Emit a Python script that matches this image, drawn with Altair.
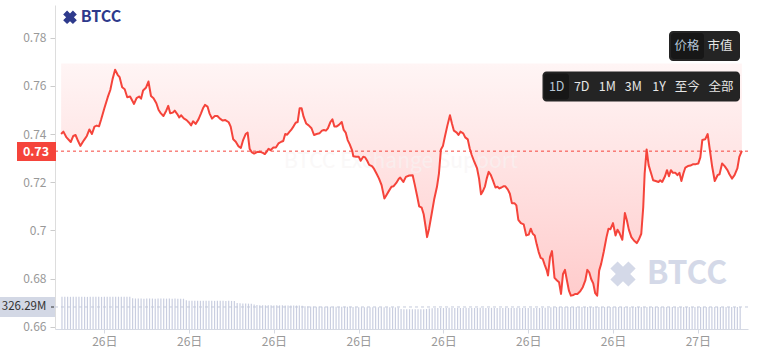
import altair as alt
import pandas as pd

FONT = "Noto Sans CJK SC"

# ---------------- data ----------------
# price series: time in hours since 26日 00:00, price
price_hours = [
    1.47, 1.55, 1.66, 1.81, 1.90, 1.98, 2.07, 2.15, 2.28, 2.38,
    2.47, 2.56, 2.65, 2.73, 2.81, 2.88, 3.00, 3.12, 3.21, 3.29,
    3.38, 3.47, 3.54, 3.63, 3.72, 3.81, 3.91, 4.05, 4.14, 4.23,
    4.30, 4.37, 4.47, 4.56, 4.65, 4.74, 4.84, 4.92, 5.00, 5.09,
    5.19, 5.26, 5.33, 5.42, 5.49, 5.58, 5.65, 5.72, 5.81, 5.91,
    6.00, 6.07, 6.14, 6.23, 6.33, 6.42, 6.49, 6.56, 6.65, 6.72,
    6.81, 6.91, 7.00, 7.09, 7.19, 7.28, 7.40, 7.47, 7.56, 7.65,
    7.74, 7.83, 7.91, 8.00, 8.07, 8.14, 8.21, 8.30, 8.40, 8.51,
    8.61, 8.68, 8.74, 8.81, 8.88, 8.98, 9.07, 9.16, 9.26, 9.33,
    9.40, 9.47, 9.54, 9.61, 9.70, 9.77, 9.84, 9.91, 9.98, 10.05,
    10.14, 10.23, 10.33, 10.42, 10.51, 10.61, 10.70, 10.77, 10.84, 10.91,
    11.00, 11.07, 11.14, 11.21, 11.30, 11.40, 11.47, 11.54, 11.61, 11.68,
    11.77, 11.81, 11.91, 12.00, 12.07, 12.16, 12.23, 12.30, 12.37, 12.47,
    12.54, 12.63, 12.72, 12.81, 12.86, 12.91, 12.98, 13.07, 13.16, 13.23,
    13.33, 13.42, 13.47,
    13.58, 13.67, 13.79, 13.91, 13.98, 14.07, 14.14, 14.23, 14.30, 14.37,
    14.42, 14.49, 14.58, 14.67, 14.77, 14.84, 14.91, 14.98, 15.05, 15.14,
    15.23, 15.30, 15.37, 15.47, 15.53, 15.60, 15.70, 15.77, 15.86, 15.93,
    16.00, 16.09, 16.19, 16.26, 16.33, 16.40, 16.47, 16.53, 16.60, 16.67,
    16.74, 16.84, 16.91, 16.98, 17.05, 17.12, 17.19, 17.28, 17.35, 17.42,
    17.51, 17.58, 17.65, 17.74, 17.84, 17.93, 18.02, 18.09, 18.16, 18.23,
    18.30, 18.37, 18.44, 18.51, 18.58, 18.65, 18.70, 18.77, 18.84, 18.93,
    19.02, 19.09, 19.16, 19.23, 19.30, 19.37, 19.44, 19.51, 19.60, 19.67,
    19.74, 19.84, 19.93, 20.02, 20.09, 20.16, 20.23, 20.30, 20.37, 20.44,
    20.51, 20.58, 20.67, 20.77, 20.84, 20.91, 21.00, 21.09, 21.16, 21.23,
    21.33, 21.42, 21.49, 21.56, 21.65, 21.74, 21.84, 21.91, 22.00, 22.07,
    22.12, 22.19, 22.26, 22.35, 22.42, 22.51, 22.61, 22.67, 22.74, 22.84,
    22.91, 22.98, 23.05, 23.12, 23.21, 23.28, 23.35, 23.42, 23.49, 23.56,
    23.65, 23.74, 23.84, 23.93, 24.02, 24.09, 24.16, 24.26, 24.35, 24.42,
    24.51, 24.60, 24.70, 24.77, 24.86, 24.95, 25.05, 25.12, 25.21, 25.30,
    25.40, 25.47, 25.56,
]
price_values = [
    0.7400, 0.7410, 0.7386, 0.7367, 0.7392, 0.7396, 0.7371, 0.7351, 0.7375, 0.7392,
    0.7419, 0.7400, 0.7431, 0.7435, 0.7432, 0.7458, 0.7507, 0.7553, 0.7583, 0.7628,
    0.7667, 0.7646, 0.7636, 0.7594, 0.7586, 0.7553, 0.7556, 0.7525, 0.7549, 0.7556,
    0.7547, 0.7581, 0.7592, 0.7618, 0.7558, 0.7549, 0.7528, 0.7500, 0.7486, 0.7475,
    0.7497, 0.7517, 0.7486, 0.7489, 0.7497, 0.7483, 0.7469, 0.7478, 0.7465, 0.7458,
    0.7447, 0.7436, 0.7453, 0.7442, 0.7461, 0.7486, 0.7507, 0.7521, 0.7514, 0.7486,
    0.7464, 0.7475, 0.7475, 0.7464, 0.7456, 0.7458, 0.7449, 0.7431, 0.7378, 0.7368,
    0.7350, 0.7342, 0.7375, 0.7400, 0.7406, 0.7339, 0.7325, 0.7319, 0.7325, 0.7326,
    0.7322, 0.7317, 0.7326, 0.7339, 0.7333, 0.7344, 0.7344, 0.7361, 0.7368, 0.7371,
    0.7400, 0.7397, 0.7408, 0.7417, 0.7433, 0.7447, 0.7450, 0.7507, 0.7507, 0.7472,
    0.7444, 0.7436, 0.7424, 0.7396, 0.7400, 0.7403, 0.7414, 0.7417, 0.7414, 0.7424,
    0.7450, 0.7461, 0.7431, 0.7431, 0.7438, 0.7450, 0.7417, 0.7406, 0.7375, 0.7358,
    0.7331, 0.7308, 0.7306, 0.7306, 0.7289, 0.7306, 0.7303, 0.7289, 0.7272, 0.7267,
    0.7256, 0.7236, 0.7215, 0.7188, 0.7160, 0.7132, 0.7146, 0.7164, 0.7181, 0.7183,
    0.7197, 0.7214, 0.7219,
    0.7201, 0.7222, 0.7228, 0.7229, 0.7192, 0.7142, 0.7100, 0.7094, 0.7067, 0.7014,
    0.6972, 0.7007, 0.7067, 0.7128, 0.7181, 0.7236, 0.7336, 0.7350, 0.7389, 0.7436,
    0.7478, 0.7444, 0.7414, 0.7406, 0.7396, 0.7410, 0.7403, 0.7386, 0.7378, 0.7340,
    0.7313, 0.7285, 0.7257, 0.7215, 0.7150, 0.7164, 0.7183, 0.7215, 0.7243, 0.7231,
    0.7211, 0.7178, 0.7181, 0.7174, 0.7178, 0.7183, 0.7183, 0.7169, 0.7152, 0.7113,
    0.7113, 0.7104, 0.7044, 0.7030, 0.7025, 0.6979, 0.6983, 0.7007, 0.6986, 0.6979,
    0.6942, 0.6910, 0.6886, 0.6882, 0.6858, 0.6836, 0.6813, 0.6889, 0.6914, 0.6803,
    0.6792, 0.6785, 0.6736, 0.6819, 0.6836, 0.6792, 0.6750, 0.6729, 0.6732, 0.6736,
    0.6736, 0.6747, 0.6764, 0.6792, 0.6836, 0.6825, 0.6797, 0.6780, 0.6739, 0.6729,
    0.6833, 0.6861, 0.6910, 0.6972, 0.7007, 0.7005, 0.7030, 0.6979, 0.7003, 0.6989,
    0.6961, 0.7072, 0.7042, 0.7003, 0.6972, 0.6958, 0.6947, 0.6961, 0.6986, 0.7097,
    0.7236, 0.7336, 0.7271, 0.7236, 0.7208, 0.7205, 0.7201, 0.7208, 0.7201, 0.7225,
    0.7250, 0.7225, 0.7250, 0.7239, 0.7239, 0.7229, 0.7239, 0.7205, 0.7236, 0.7261,
    0.7267, 0.7269, 0.7275, 0.7275, 0.7278, 0.7303, 0.7375, 0.7378, 0.7400, 0.7340,
    0.7264, 0.7205, 0.7229, 0.7233, 0.7278, 0.7267, 0.7250, 0.7233, 0.7215, 0.7229,
    0.7257, 0.7305, 0.7330,
]
LAST_PRICE = 0.7329
LAST_PRICE_LABEL = "0.73"
PRICE_CEILING = 0.7693  # top edge of the shaded band

# volume bars (millions), one every 6 minutes starting 26日 01:30
VOL_START_HOUR = 1.5
VOL_STEP_HOURS = 0.1
volume_values = [
    476, 477, 478, 477, 476, 477, 478, 478, 477, 476, 477, 477, 478, 477, 476, 477, 478, 477, 477, 476, 478, 477, 476, 477, 477,
    455, 452, 451, 452, 450, 451, 452, 451, 450, 451, 452, 451, 450, 451, 450, 451, 450, 449, 448,
    425, 420, 419, 418, 419, 418, 417, 418, 419, 418, 417, 418, 417, 418, 416, 417, 416, 415,
    385, 380, 378, 377, 376, 375,
    362, 356, 353, 352, 351, 352, 351, 350, 351, 350, 351, 350, 349, 350, 349, 348, 347, 346,
    338, 334, 332, 331, 331, 332, 331, 330, 331, 330, 331, 330, 330, 329, 330, 329, 328, 327,
    324, 322, 322, 323, 322, 321, 322, 321, 322, 321, 321, 322, 321, 320, 320, 318,
    296, 293, 292, 293, 292, 293, 292, 293, 294, 296,
    305, 308, 310, 311, 312, 311, 312, 313, 312, 311, 312, 311, 312, 313, 312, 311, 312, 312, 313, 312,
    311, 312, 313, 312, 311, 312, 312, 313, 312, 311, 312, 313, 312, 312, 311, 312, 313, 312, 311, 312,
    313, 314, 316,
    322, 324, 325, 326, 326, 325, 326, 327, 326, 325, 326, 326, 327, 326, 325, 326, 327, 326, 326, 325,
    326, 327, 326, 325, 326, 326, 327, 326, 325, 326, 327, 326, 326, 325, 326, 327, 326, 325, 326, 326,
    327, 326, 325, 326, 327, 326, 326, 325, 326, 327, 326, 325, 326, 326, 327, 326, 325, 326, 327, 326,
    326, 325, 326, 327, 326, 325, 326, 326.29,
]
LAST_VOLUME = 326.29
LAST_VOLUME_LABEL = "326.29M"

y_ticks = [0.66, 0.68, 0.70, 0.72, 0.74, 0.76, 0.78]
x_ticks = [3, 6, 9, 12, 15, 18, 21, 24]
mode_labels = ["价格", "市值"]
range_labels = ["1D", "7D", "1M", "3M", "1Y", "至今", "全部"]
watermark_text = "BTCC Exchange Support"
brand_text = "BTCC"

# ---------------- frames ----------------
price_df = pd.DataFrame({"h": price_hours, "p": price_values})
price_df["top"] = PRICE_CEILING
vol_df = pd.DataFrame({
    "h": [VOL_START_HOUR + VOL_STEP_HOURS * i for i in range(len(volume_values))],
    "v": volume_values,
})
dummy = pd.DataFrame({"a": [1]})

W, H = 693, 324
x_scale = alt.Scale(domain=[1.43, 25.60], nice=False, zero=False)
y_scale = alt.Scale(domain=[0.65905, 0.79358], nice=False, zero=False)
v_scale = alt.Scale(domain=[0, 4800], nice=False, zero=True)

RED = "#f5443b"

x_axis = alt.Axis(
    values=x_ticks, labelExpr="datum.value >= 24 ? '27日' : '26日'", title=None,
    grid=False, labelColor="#999999", labelFontSize=12, labelFont=FONT,
    tickColor="#d5d9e3", tickSize=4, domainColor="#d5d9e3", labelPadding=3,
    labelFlush=False,
)
y_axis = alt.Axis(
    values=y_ticks, format=".2~f", title=None, grid=False,
    labelColor="#999999", labelFontSize=12, labelFont=FONT,
    tickColor="#cccccc", tickSize=5, domainColor="#dddddd", labelPadding=4,
)

gradient = alt.Gradient(
    gradient="linear",
    stops=[alt.GradientStop(color="#fff5f5", offset=0),
           alt.GradientStop(color="#ffcccc", offset=1)],
    x1=0, x2=0, y1=0, y2=1,
)

area = alt.Chart(price_df).mark_area(fill=gradient).encode(
    x=alt.X("h:Q", scale=x_scale, axis=x_axis),
    y=alt.Y("p:Q", scale=y_scale, axis=y_axis),
    y2="top:Q",
)
watermark = alt.Chart(dummy).mark_text(
    text=watermark_text, font=FONT, fontSize=21, color="#f7f4f4", opacity=0.6,
    align="center", baseline="middle",
).encode(x=alt.value(346), y=alt.value(157))
line = alt.Chart(price_df).mark_line(color=RED, strokeWidth=2, strokeJoin="round").encode(
    x=alt.X("h:Q", scale=x_scale),
    y=alt.Y("p:Q", scale=y_scale),
)
last_rule = alt.Chart(dummy).mark_rule(color=RED, strokeDash=[3, 3], strokeWidth=1).encode(
    y=alt.datum(LAST_PRICE)
)

price_group = alt.layer(area, watermark, line, last_rule)

bars = alt.Chart(vol_df).mark_bar(color="#c9cee0", size=1.2).encode(
    x=alt.X("h:Q", scale=x_scale),
    y=alt.Y("v:Q", scale=v_scale, axis=None),
)
vol_rule = alt.Chart(dummy).mark_rule(color="#c4cadb", strokeDash=[3, 3], strokeWidth=1).encode(
    y=alt.datum(LAST_VOLUME), x=alt.value(0), x2=alt.value(W)
)
vol_group = alt.layer(bars, vol_rule)


def box(x1, x2, y1, y2, color, radius=0):
    return alt.Chart(dummy).mark_rect(color=color, cornerRadius=radius).encode(
        x=alt.value(x1), x2=alt.value(x2), y=alt.value(y1), y2=alt.value(y2)
    )


def label(text, x, y, size, color, weight="normal"):
    return alt.Chart(dummy).mark_text(
        text=text, font=FONT, fontSize=size, color=color, fontWeight=weight,
        align="center", baseline="middle",
    ).encode(x=alt.value(x), y=alt.value(y))


def logo_icon(x, y, size, color):
    return alt.Chart(dummy).mark_point(
        shape="cross", filled=True, angle=45, size=size, color=color, opacity=1
    ).encode(x=alt.value(x), y=alt.value(y))


annotations = [
    # price tag on the axis
    box(-38, 1, 137, 156, RED),
    label(LAST_PRICE_LABEL, -19, 146.5, 12.5, "white", "bold"),
    # volume tag on the axis
    box(-55, 0, 292, 312, "#d3d8e5"),
    label(LAST_VOLUME_LABEL, -31, 302, 11.5, "#333333"),
    alt.Chart(dummy).mark_rule(color="#333333", strokeWidth=1).encode(
        x=alt.value(-4), x2=alt.value(-1), y=alt.value(302)),
    # brand marks
    logo_icon(15, 12.3, 190, "#2e3a8c"),
    label(brand_text, 46, 12.2, 16, "#2e3a8c", "bold"),
    logo_icon(568, 269, 650, "#d4d9e8"),
    label(brand_text, 632, 269, 32, "#d4d9e8", "bold"),
    # mode toggle
    box(614, 685, 26, 56, "#242424", 4),
    box(616, 649, 28, 54, "#171717", 3),
    # range toggle
    box(487.5, 685, 66.5, 96.5, "#242424", 4),
    box(489, 514, 68.5, 94.5, "#171717", 3),
]
mode_x = [632, 665]
for i, t in enumerate(mode_labels):
    annotations.append(label(t, mode_x[i], 41, 12.5, "#b6c5d6" if i == 0 else "#e6e6e6"))
range_x = [501.7, 526.7, 552.3, 578.3, 604, 632.3, 666]
for i, t in enumerate(range_labels):
    annotations.append(label(t, range_x[i], 81.5, 12.5, "#b6c5d6" if i == 0 else "#e6e6e6"))

annot_group = alt.layer(*annotations)

chart = alt.layer(price_group, vol_group, annot_group).resolve_scale(
    y="independent"
).properties(
    width=W, height=H,
    autosize=alt.AutoSizeParams(type="none"),
    padding={"left": 55, "top": 5, "right": 10, "bottom": 27},
    background="white",
).configure_view(stroke=None)

chart.save("out.html", embed_options={"renderer": "svg", "actions": False})
